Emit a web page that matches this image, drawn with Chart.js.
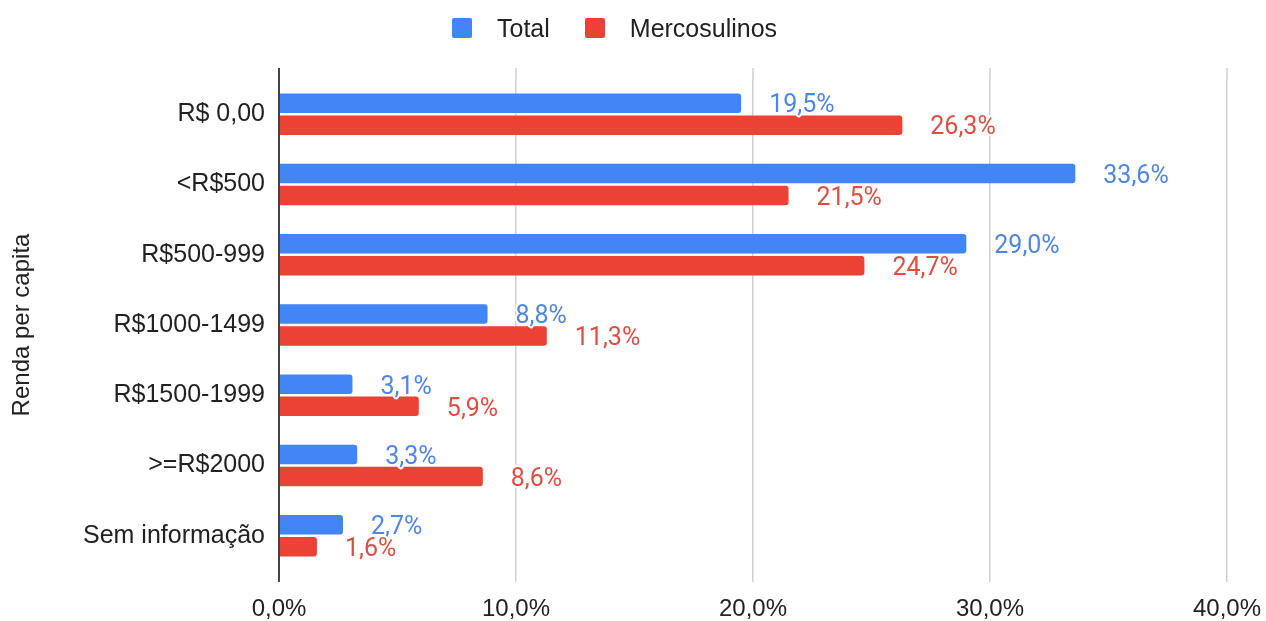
<!DOCTYPE html>
<html>
<head>
<meta charset="utf-8">
<script src="https://cdn.jsdelivr.net/npm/chart.js@4/dist/chart.umd.min.js"></script>
<style>
  html, body { margin: 0; padding: 0; background: #fff; }
  #wrap { position: relative; width: 1266px; height: 621px; }
  #legend {
    position: absolute; top: 18px; left: 452px;
    display: flex; align-items: center;
    font-family: "Liberation Sans", Arial, sans-serif; font-size: 25px; line-height: 20px; color: #222;
  }
  #legend .item { display: flex; align-items: center; margin-right: 35px; }
  #legend .box { width: 20px; height: 20px; border-radius: 2px; margin-right: 25px; }
</style>
</head>
<body>
<div id="wrap">
  <canvas id="renda"></canvas>
  <div id="legend"></div>
</div>
<script>
const faixas = ['R$ 0,00', '<R$500', 'R$500-999', 'R$1000-1499', 'R$1500-1999', '>=R$2000', 'Sem informação'];
const total = [19.5, 33.6, 29.0, 8.8, 3.1, 3.3, 2.7];
const mercosulinos = [26.3, 21.5, 24.7, 11.3, 5.9, 8.6, 1.6];
const xTicks = [0, 10, 20, 30, 40];

const AZUL = '#4285f4';
const VERMELHO = '#ea4335';
const fonte = '"Liberation Sans", Arial, sans-serif';

const pct = v => v.toFixed(1).replace('.', ',') + '%';

// rótulos de valor ao lado de cada barra
const rotulos = {
  id: 'rotulos',
  afterDatasetsDraw(chart) {
    const ctx = chart.ctx;
    ctx.save();
    ctx.font = '25px Roboto, sans-serif';
    ctx.textBaseline = 'middle';
    ctx.textAlign = 'left';
    ctx.lineJoin = 'round';
    chart.data.datasets.forEach((ds, i) => {
      chart.getDatasetMeta(i).data.forEach((bar, j) => {
        const txt = pct(ds.data[j]);
        const x = bar.x + 28, y = bar.y + 3;
        ctx.strokeStyle = '#fff';
        ctx.lineWidth = 4;
        ctx.strokeText(txt, x, y);
        ctx.fillStyle = ds.labelColor;
        ctx.fillText(txt, x, y);
      });
    });
    ctx.restore();
  }
};

// linhas verticais passam um pouco acima da área do gráfico
const gradeTopo = {
  id: 'gradeTopo',
  beforeDatasetsDraw(chart) {
    const { ctx, chartArea, scales } = chart;
    ctx.save();
    scales.x.ticks.forEach(t => {
      const x = scales.x.getPixelForValue(t.value);
      ctx.strokeStyle = t.value === 0 ? '#444' : '#d0d0d0';
      ctx.lineWidth = t.value === 0 ? 2 : 1.5;
      ctx.beginPath();
      ctx.moveTo(x, chartArea.top - 11);
      ctx.lineTo(x, chartArea.top);
      ctx.stroke();
    });
    ctx.restore();
  }
};

const chart = new Chart(document.getElementById('renda'), {
  type: 'bar',
  data: {
    labels: faixas,
    datasets: [
      { label: 'Total', data: total, backgroundColor: AZUL, labelColor: '#4f86e3' },
      { label: 'Mercosulinos', data: mercosulinos, backgroundColor: VERMELHO, labelColor: '#dc5044' }
    ]
  },
  options: {
    indexAxis: 'y',
    responsive: true,
    maintainAspectRatio: false,
    animation: false,
    layout: { padding: { top: 79, right: 0, left: 0, bottom: 0 } },
    datasets: {
      bar: { categoryPercentage: 0.626, barPercentage: 0.886, borderRadius: 3 }
    },
    scales: {
      x: {
        min: 0,
        max: 40,
        afterBuildTicks: s => { s.ticks = xTicks.map(v => ({ value: v })); },
        ticks: {
          callback: v => pct(v),
          font: { family: fonte, size: 24 },
          color: '#222',
          padding: 13,
          maxRotation: 0
        },
        grid: {
          color: c => c.tick && c.tick.value === 0 ? '#444' : '#d0d0d0',
          tickColor: c => c.tick && c.tick.value === 0 ? '#444' : '#d0d0d0',
          lineWidth: c => c.tick && c.tick.value === 0 ? 2 : 1.5,
          tickLength: 11
        },
        border: { display: false },
        afterFit: s => {
          s.height = 50;
          s.paddingLeft = 0;
          s.paddingRight = 39;
        }
      },
      y: {
        ticks: {
          font: { family: fonte, size: 25 },
          color: '#222',
          padding: 6
        },
        grid: { display: false },
        border: { display: false },
        title: {
          display: true,
          text: 'Renda per capita',
          font: { family: fonte, size: 24 },
          color: '#222',
          padding: { top: 8, bottom: 0 }
        },
        afterFit: s => { s.width = 279; }
      }
    },
    plugins: {
      legend: { display: false },
      tooltip: { enabled: false }
    }
  },
  plugins: [rotulos, gradeTopo]
});

// legenda em HTML
const legenda = document.getElementById('legend');
chart.data.datasets.forEach(ds => {
  const item = document.createElement('div');
  item.className = 'item';
  const box = document.createElement('span');
  box.className = 'box';
  box.style.background = ds.backgroundColor;
  const txt = document.createElement('span');
  txt.textContent = ds.label;
  item.append(box, txt);
  legenda.appendChild(item);
});
</script>
</body>
</html>
